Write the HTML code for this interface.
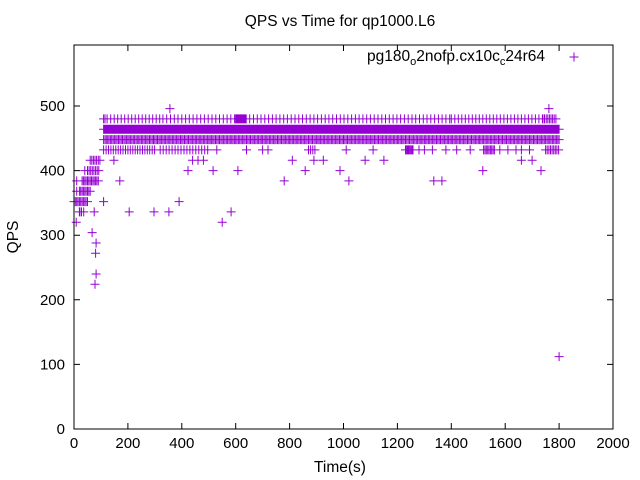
<!DOCTYPE html>
<html><head><meta charset="utf-8"><style>
body{margin:0;background:#fff}
svg{display:block;font-family:"Liberation Sans",sans-serif}
</style></head><body>
<svg id="chart" width="640" height="480" viewBox="0 0 640 480">
<rect width="640" height="480" fill="#fff"/>
<text x="340" y="26" font-size="15.5" text-anchor="middle">QPS vs Time for qp1000.L6</text>
<text x="340" y="472" font-size="15.5" text-anchor="middle">Time(s)</text>
<text x="0" y="0" font-size="15.5" text-anchor="middle" transform="translate(18,237) rotate(-90)">QPS</text>
<g id="grid"></g>
<g id="marks"></g>
<rect x="74" y="45" width="539" height="384" fill="none" stroke="#000" stroke-width="1"/>
<g>
<text x="545" y="61" font-size="15.5" text-anchor="end">pg180<tspan font-size="11" dy="4">o</tspan><tspan dy="-4">2nofp.cx10c</tspan><tspan font-size="11" dy="4">c</tspan><tspan dy="-4">24r64</tspan></text>
<path d="M569.5 57h9M574 52.5v9" stroke="#9400d3" stroke-width="1"/>
</g>
</svg>
<script>
const xTicks=[0,200,400,600,800,1000,1200,1400,1600,1800,2000];
const yTicks=[0,100,200,300,400,500];
// runs: QPS level, start time, end time, spacing in seconds
const runLevel=[480,480,480,480,480,464,448,432,432,416,400,384,368,352,336,432,432,432,432,416];
const runStart=[110,330,1400,1740,600,110,110,110,320,60,50,30,20,0,20,1230,1520,1750,870,440];
const runEnd=[330,1400,1740,1790,640,1800,1800,300,500,100,95,90,60,50,40,1260,1560,1800,900,480];
const runStep=[13,14,13,6,3,2,5,9,11,6,6,5,5,5,8,4,5,6,8,20];
// isolated points
const ptTime=[10,10,15,22,8,40,45,60,67,82,80,82,78,75,110,115,205,297,352,390,423,516,550,583,608,170,148,356,1762,1800,1335,1365,1517,1733,1020,987,780,858,810,890,925,1080,1150,1240,1660,1640,1700,1760,1420,1470,1580,1610,640,700,530,720,1010,1110,1280,1300,1330,1380,1660,1690];
const ptQps=[384,368,352,336,320,400,368,416,304,288,272,240,224,336,352,480,336,336,336,352,400,400,320,336,400,384,416,496,496,112,384,384,400,400,384,400,384,400,416,416,416,416,416,432,416,432,416,448,432,432,432,432,432,432,432,432,432,432,432,432,432,432,432,432];

const X=t=>74+t*539/2000, Y=v=>429-v*323/500;
const ns="http://www.w3.org/2000/svg";
const grid=document.getElementById('grid'), marks=document.getElementById('marks');
xTicks.forEach(t=>{
  const x=X(t);
  const p=document.createElementNS(ns,'path');
  p.setAttribute('d',`M${x} 429v-6M${x} 45v6`);p.setAttribute('stroke','#000');
  
  
  grid.appendChild(p);
  const tx=document.createElementNS(ns,'text');
  tx.setAttribute('x',x);tx.setAttribute('y',448);tx.setAttribute('font-size','15');tx.setAttribute('text-anchor','middle');
  tx.textContent=t;
  
  
  grid.appendChild(tx);
});
yTicks.forEach(v=>{
  const y=Y(v);
  const p=document.createElementNS(ns,'path');
  p.setAttribute('d',`M74 ${y}h6M613 ${y}h-6`);p.setAttribute('stroke','#000');
  
  
  grid.appendChild(p);
  const tx=document.createElementNS(ns,'text');
  tx.setAttribute('x',65);tx.setAttribute('y',y+5);tx.setAttribute('font-size','15');tx.setAttribute('text-anchor','end');
  tx.textContent=v;
  
  
  grid.appendChild(tx);
});
let d='';
function plus(t,v){const x=X(t),y=Y(v);d+=`M${(x-4.5).toFixed(1)} ${y.toFixed(1)}h9M${x.toFixed(1)} ${(y-4.5).toFixed(1)}v9`;}
for(let i=0;i<runLevel.length;i++){
  for(let t=runStart[i];t<=runEnd[i];t+=runStep[i]) plus(t,runLevel[i]);
}
for(let i=0;i<ptTime.length;i++) plus(ptTime[i],ptQps[i]);
const path=document.createElementNS(ns,'path');
path.setAttribute('d',d);path.setAttribute('stroke','#9400d3');path.setAttribute('stroke-width','1');path.setAttribute('fill','none');


marks.appendChild(path);
</script>
</body></html>
